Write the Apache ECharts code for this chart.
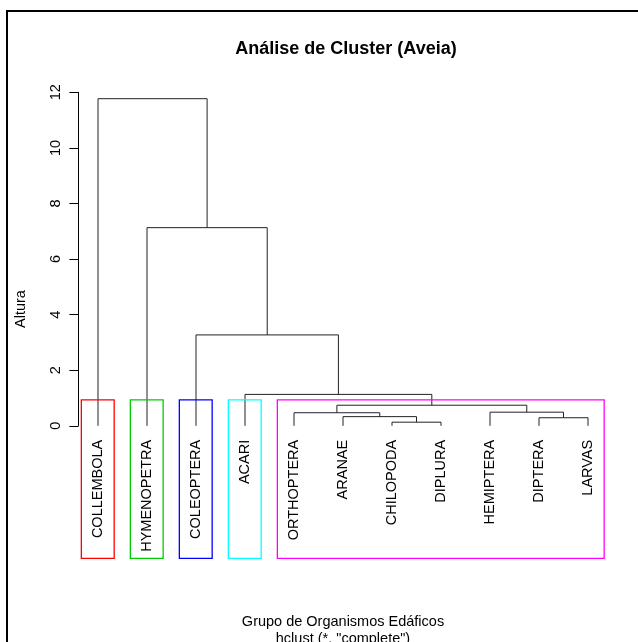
<!DOCTYPE html>
<html><head><meta charset="utf-8">
<script src="https://cdn.jsdelivr.net/npm/echarts@6/dist/echarts.min.js"></script>
<style>html,body{margin:0;padding:0;background:#fff}#c{width:638px;height:642px}</style>
</head><body><div id="c"></div>
<script>
// ---- data ----
const labels = ['COLLEMBOLA','HYMENOPETRA','COLEOPTERA','ACARI','ORTHOPTERA','ARANAE','CHILOPODA','DIPLURA','HEMIPTERA','DIPTERA','LARVAS'];
// merge table (R hclust style): negative = leaf (1-based display position), positive = earlier merge
const mergeA = [-7, -10, -6, -5, -9, 4, -4, -3, -2, -1];
const mergeB = [-8, -11, 1, 3, 2, 5, 6, 7, 8, 9];
const mergeHeight = [0.13, 0.29, 0.33, 0.47, 0.49, 0.74, 1.13, 3.27, 7.13, 11.77];
const yTicks = [0, 2, 4, 6, 8, 10, 12];
const kClusters = 5;
const clusterFirst = [1, 2, 3, 4, 5];
const clusterLast = [1, 2, 3, 4, 11];
const clusterColors = ['#ff0000', '#00cd00', '#0000ff', '#00ffff', '#ff00ff'];
const plotBottomValue = -4.77; // lower edge of plot region (par("usr")[3])
const titleText = 'Análise de Cluster (Aveia)';
const xLabel = 'Grupo de Organismos Edáficos';
const subLabel = 'hclust (*, "complete")';
const yLabel = 'Altura';

// ---- layout helpers ----
const FONT = '"Liberation Sans", Arial, Helvetica, sans-serif';
const nodeX = [];
function childX(c) { return c < 0 ? -c : nodeX[c - 1]; }
function childH(c) { return c < 0 ? 0 : mergeHeight[c - 1]; }
mergeHeight.forEach((h, i) => { nodeX.push((childX(mergeA[i]) + childX(mergeB[i])) / 2); });
const sortedH = mergeHeight.slice().sort((a, b) => b - a);
const rectTop = (sortedH[kClusters - 2] + sortedH[kClusters - 1]) / 2;

const chart = echarts.init(document.getElementById('c'), null, {renderer: 'canvas'});
const option = {
  animation: false,
  backgroundColor: '#ffffff',
  grid: {left: 78.4, right: 30.4, top: 92.3, height: 333.5, containLabel: false},
  xAxis: {type: 'value', min: 0.6, max: labels.length + 0.4, show: false},
  yAxis: {
    type: 'value', min: yTicks[0], max: yTicks[yTicks.length - 1], interval: 2,
    axisLine: {show: true, lineStyle: {color: '#000', width: 1}},
    axisTick: {show: true, length: 9, lineStyle: {color: '#000', width: 1}},
    axisLabel: {rotate: 90, margin: 15, color: '#000', fontSize: 14.5, fontFamily: FONT},
    splitLine: {show: false}
  },
  series: [
    {
      type: 'custom', clip: false, silent: true,
      data: mergeHeight.map((h, i) => [i]),
      renderItem: function (params, api) {
        const i = api.value(0);
        const a = mergeA[i], b = mergeB[i], h = mergeHeight[i];
        const pts = [
          api.coord([childX(a), childH(a)]),
          api.coord([childX(a), h]),
          api.coord([childX(b), h]),
          api.coord([childX(b), childH(b)])
        ];
        return {type: 'polyline', shape: {points: pts}, style: {stroke: '#222', lineWidth: 1, fill: 'none'}};
      }
    },
    {
      type: 'custom', clip: false, silent: true,
      data: labels.map((l, i) => [i + 1, 0]),
      renderItem: function (params, api) {
        const p = api.coord([api.value(0), api.value(1)]);
        return {
          type: 'text', x: p[0], y: p[1] + 14, rotation: Math.PI / 2,
          style: {text: labels[params.dataIndex], fill: '#000', font: '14.5px ' + FONT,
                  align: 'right', verticalAlign: 'middle', textAlign: 'right', textVerticalAlign: 'middle'}
        };
      }
    },
    {
      type: 'custom', clip: false, silent: true,
      data: clusterFirst.map((f, i) => [i]),
      renderItem: function (params, api) {
        const i = api.value(0);
        const tl = api.coord([clusterFirst[i] - 0.34, rectTop]);
        const br = api.coord([clusterLast[i] + 0.33, plotBottomValue]);
        return {type: 'rect', shape: {x: tl[0], y: tl[1], width: br[0] - tl[0], height: br[1] - tl[1]},
                style: {stroke: clusterColors[i], lineWidth: 1.3, fill: 'none'}};
      }
    }
  ],
  graphic: [
    {type: 'rect', shape: {x: 7, y: 11, width: 800, height: 800}, style: {stroke: '#000', lineWidth: 2, fill: 'none'}, silent: true},
    {type: 'text', x: 346, y: 49, style: {text: titleText, font: 'bold 18px ' + FONT, fill: '#000',
      align: 'center', verticalAlign: 'middle', textAlign: 'center', textVerticalAlign: 'middle'}},
    {type: 'text', x: 21, y: 309, rotation: Math.PI / 2, style: {text: yLabel, font: '14.5px ' + FONT, fill: '#000',
      align: 'center', verticalAlign: 'middle', textAlign: 'center', textVerticalAlign: 'middle'}},
    {type: 'text', x: 343, y: 621.5, style: {text: xLabel, font: '14.5px ' + FONT, fill: '#000',
      align: 'center', verticalAlign: 'middle', textAlign: 'center', textVerticalAlign: 'middle'}},
    {type: 'text', x: 343, y: 638.5, style: {text: subLabel, font: '14.5px ' + FONT, fill: '#000',
      align: 'center', verticalAlign: 'middle', textAlign: 'center', textVerticalAlign: 'middle'}}
  ]
};
chart.setOption(option);
</script>
</body></html>
